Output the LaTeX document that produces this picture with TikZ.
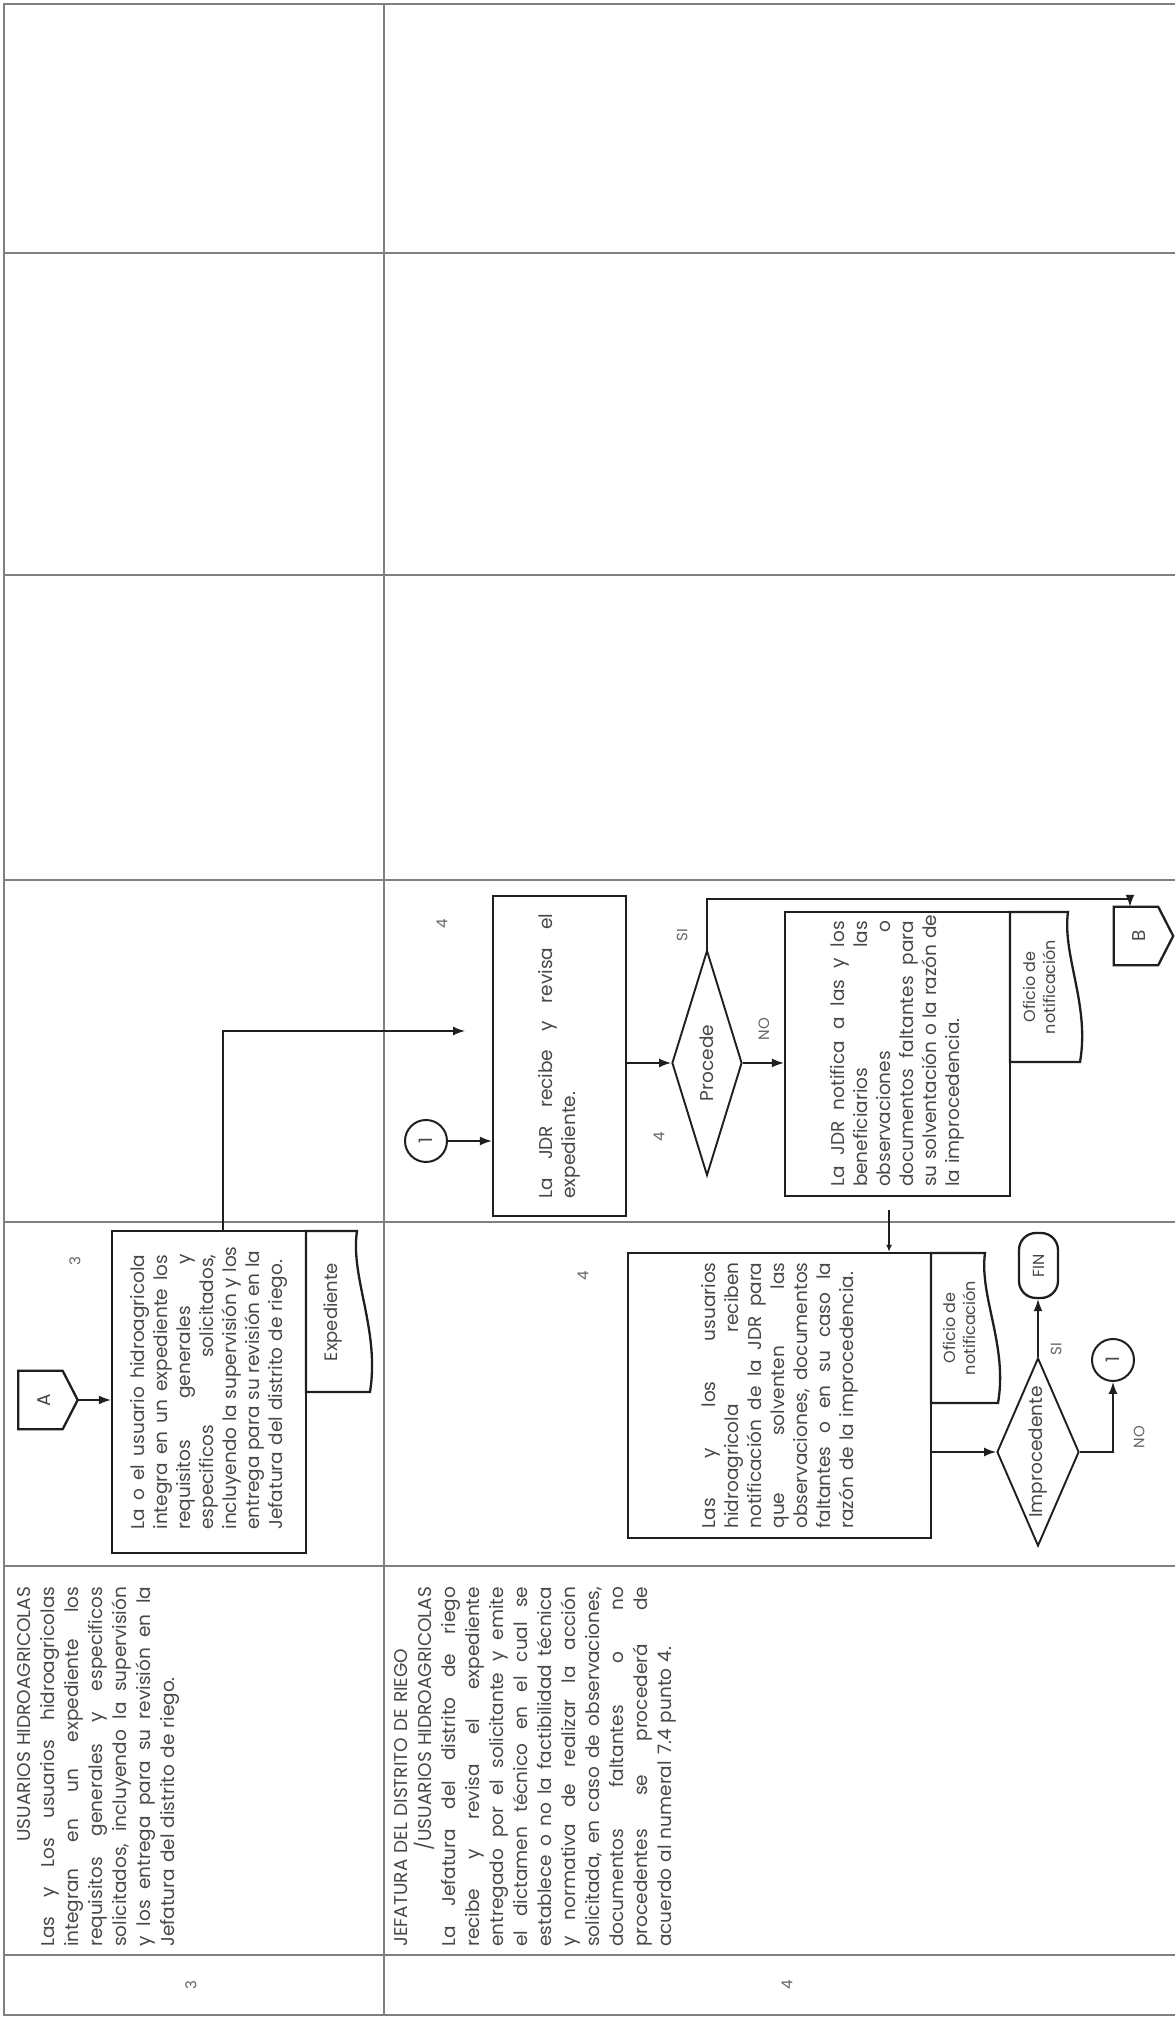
\documentclass[tikz,border=0pt]{standalone}
\usepackage{fontspec}
\setmainfont{Poppins}
\usetikzlibrary{shapes.geometric,arrows.meta,calc}
\newcommand{\jl}[1]{\noindent\hbox to \hsize{\spaceskip=0.3em plus 1fil\relax #1}}
\begin{document}
\begin{tikzpicture}[x=1pt,y=1pt,
  gridline/.style={draw=black!50,line width=1.3pt},
  boxline/.style={draw=black!88,line width=2.3pt},
  txt/.style={text=black!72,font=\fontsize{18.5}{23}\selectfont},
  procbox/.style={boxline,fill=white,rectangle,inner sep=0pt,txt,align=left},
  desc/.style={text=black!72,font=\fontsize{18.5}{24}\selectfont,inner sep=0pt,text width=360pt,align=left,anchor=north west},
  conn/.style={draw=black!88,line width=1.5pt},
  arr/.style={-{Latex[length=12pt,width=9pt]}},
  lbl/.style={text=black!60,font=\fontsize{15}{17}\selectfont,inner sep=0pt},
  decision/.style={diamond,draw=black!88,line width=1.9pt,inner sep=0pt,fill=white,txt},
  connector/.style={circle,draw=black!88,line width=2pt,minimum size=42pt,inner sep=0pt,txt},
  doctext/.style={text=black!72,font=\fontsize{16}{20}\selectfont,align=center,inner sep=0pt},
  offpage/.style={minimum width=58pt,minimum height=59pt,inner sep=0pt,txt}
]
\begin{scope}[rotate=90,transform shape]
\useasboundingbox (0,0) rectangle (2020,-1175);
\fill[white] (0,0) rectangle (2020,-1175);

% ---------- table grid ----------
\draw[gridline] (5,-1175) -- (5,-4) -- (2016,-4) -- (2016,-1175);
\draw[gridline] (5,-384) -- (2016,-384);
\foreach \gx in {65,454,798,1140,1445,1767}
  \draw[gridline] (\gx,-4) -- (\gx,-1175);

% ---------- numbers ----------
\node[lbl] (num3) at (35,-191) {3};
\node[lbl] (num4) at (35,-787) {4};

% ---------- descriptions ----------
\node[desc] (d3) at (73,-17) {%
\hspace*{\fill}USUARIOS HIDROAGRICOLAS\hspace*{40pt}\\
\jl{Las y Los usuarios hidroagricolas}\\
\jl{integran en un expediente los}\\
\jl{requisitos generales y especificos}\\
\jl{solicitados, incluyendo la supervisión}\\
\jl{y los entrega para su revisión en la}\\
Jefatura del distrito de riego.};

\node[desc] (d4) at (73,-394) {%
JEFATURA DEL DISTRITO DE RIEGO\\
\hspace*{\fill}/USUARIOS HIDROAGRICOLAS\hspace*{22pt}\\
\jl{La Jefatura del distrito de riego}\\
\jl{recibe y revisa el expediente}\\
\jl{entregado por el solicitante y emite}\\
\jl{el dictamen técnico en el cual se}\\
\jl{establece o no la factibilidad técnica}\\
\jl{y normativa de realizar la acción}\\
\jl{solicitada, en caso de observaciones,}\\
\jl{documentos faltantes o no}\\
\jl{procedentes se procederá de}\\
acuerdo al numeral 7.4 punto 4.};

% ---------- step 3 ----------
\node[offpage] (A) at (620,-48) {};
\draw[boxline,fill=white] (A.north west) -- (A.north east) -- ($(A.south east)+(0,15)$) -- (A.south) -- ($(A.south west)+(0,15)$) -- cycle;
\node[txt] (Alab) at ($(A.center)+(0,4)$) {A};
\node[lbl] (s3) at (759,-75) {3};

\node[procbox,minimum width=322pt,minimum height=194pt,text width=275pt] (box3) at (628,-209) {%
\jl{La o el usuario hidroagricola}\\
\jl{integra en un expediente los}\\
\jl{requisitos generales y}\\
\jl{especificos solicitados,}\\
\jl{incluyendo la supervisión y los}\\
\jl{entrega para su revisión en la}\\
Jefatura del distrito de riego.};

\draw[boxline,fill=white] (628,-306) -- (789,-306) -- (789,-357)
  .. controls (743,-350) and (690,-380) .. (628,-370) -- cycle;
\node[doctext,font=\fontsize{18}{20}\selectfont] (exp) at (708,-333) {Expediente};

% ---------- step 4 (upper lane) ----------
\node[connector] (c1) at (879,-426) {1};
\node[lbl] (s4a) at (1096,-442) {4};
\node[procbox,minimum width=320pt,minimum height=133pt,text width=285pt] (jdr) at (964,-559.5) {%
\jl{La JDR recibe y revisa el}\\
expediente.};

\node[decision,minimum width=225pt,minimum height=70pt,aspect=3.2] (proc) at (957,-707) {Procede};
\node[lbl] (s4b) at (883,-659) {4};
\node[lbl] (si1) at (1085,-682) {SI};
\node[lbl] (no1) at (991,-764) {NO};

\node[procbox,minimum width=284pt,minimum height=225pt,text width=266pt] (notif) at (966,-897.5) {%
\jl{La JDR notifica a las y los}\\
\jl{beneficiarios las}\\
\jl{observaciones o}\\
\jl{documentos faltantes para}\\
\jl{su solventación o la razón de}\\
la improcedencia.};
\draw[boxline,fill=white] (958,-1010) -- (1108,-1010) -- (1108,-1068)
  .. controls (1065,-1062) and (1015,-1090) .. (958,-1080) -- cycle;
\node[doctext] (of1) at (1033,-1039) {Oficio de\\notificación};

\node[offpage] (B) at (1084,-1143.5) {};
\draw[boxline,fill=white] (B.north west) -- (B.north east) -- ($(B.south east)+(0,15)$) -- (B.south) -- ($(B.south west)+(0,15)$) -- cycle;
\node[txt] (Blab) at ($(B.center)+(0,4)$) {B};

% ---------- step 4 (lower lane) ----------
\node[lbl] (s4c) at (744,-583) {4};
\node[procbox,minimum width=285pt,minimum height=303pt,text width=266pt] (las) at (624.5,-779.5) {%
\jl{Las y los usuarios}\\
\jl{hidroagricola reciben}\\
\jl{notificación de la JDR para}\\
\jl{que solventen las}\\
\jl{observaciones, documentos}\\
\jl{faltantes o en su caso la}\\
razón de la improcedencia.};
\draw[boxline,fill=white] (617,-931) -- (767,-931) -- (767,-985)
  .. controls (724,-979) and (674,-1008) .. (617,-998) -- cycle;
\node[doctext] (of2) at (692,-959) {Oficio de\\notificación};

\node[decision,minimum width=188pt,minimum height=82pt,aspect=2.3] (impr) at (568,-1038) {Improcedente};
\node[boxline,rounded corners=17pt,minimum width=65pt,minimum height=39pt,inner sep=0pt,txt,font=\fontsize{16}{18}\selectfont] (fin) at (754.5,-1038.5) {FIN};
\node[connector] (c2) at (660,-1113) {1};
\node[lbl] (si2) at (671,-1056) {SI};
\node[lbl] (no2) at (583,-1139) {NO};

% ---------- connectors ----------
\coordinate (toJDR) at (989,-465);
\coordinate (siB) at (1121,-1130);
\coordinate (nl) at (810,-889);
\draw[conn,arr] (A.south) -- (A.south |- box3.north);
\draw[conn,arr] ([yshift=-14pt]box3.east) -| (toJDR);
\draw[conn,arr] (c1.south) -- (c1.south |- jdr.north);
\draw[conn,arr] (proc.north |- jdr.south) -- (proc.north);
\draw[conn,arr] (proc.south) -- (proc.south |- notif.north);
\draw[conn,arr] (proc.east) -| (siB) -- (siB -| B.east);
\draw[conn,-{Latex[length=7pt,width=6pt]}] (nl) -- (nl -| las.east);
\draw[conn,arr] (impr.north |- las.south) -- (impr.north);
\draw[conn,arr] (impr.east) -- (impr.east -| fin.west);
\draw[conn,arr] (impr.south) |- (c2.west);
\end{scope}
\end{tikzpicture}
\end{document}
